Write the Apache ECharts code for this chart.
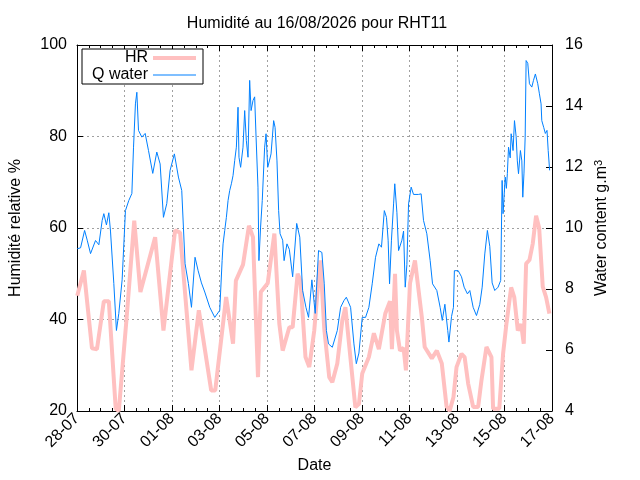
<!DOCTYPE html>
<html>
<head>
<meta charset="utf-8">
<script src="https://cdn.jsdelivr.net/npm/echarts@6/dist/echarts.min.js"></script>
<style>
  html, body { margin: 0; padding: 0; background: #fff; }
  #chart { width: 640px; height: 480px; }
</style>
</head>
<body>
<div id="chart"></div>
<script>
// time in days since 28-07 00:00
const dateLabels = ['28-07', '30-07', '01-08', '03-08', '05-08', '07-08', '09-08', '11-08', '13-08', '15-08', '17-08'];

const hrTime = [0.01, 0.29, 0.63, 0.84, 1.13, 1.34, 1.63, 1.76, 2.09, 2.41, 2.67, 3.29, 3.64, 4.13, 4.34,
  4.82, 5.13, 5.65, 5.82, 6.28, 6.57, 6.69, 6.99, 7.24, 7.41, 7.62, 7.74, 8.03, 8.31, 8.52, 8.66, 8.94,
  9.08, 9.29, 9.41, 9.62, 9.78, 9.99, 10.2, 10.25, 10.41, 10.62, 10.75, 10.96, 11.17, 11.3, 11.51, 11.72,
  11.87, 12.01, 12.29, 12.5, 12.71, 12.98, 13.18, 13.26, 13.39, 13.47, 13.6, 13.75, 13.85, 14.02, 14.23,
  14.31, 14.52, 14.64, 14.94, 15.15, 15.36, 15.56, 15.69, 15.85, 15.98, 16.19, 16.32, 16.47, 16.68, 16.89,
  17.03, 17.24, 17.31, 17.45, 17.52, 17.78, 17.94, 18.08, 18.28, 18.41, 18.56, 18.7, 18.81, 18.91, 19.05,
  19.19, 19.33, 19.46, 19.61, 19.75, 19.89];
const hrValue = [45.2, 50.7, 33.7, 33.5, 44, 44, 20.5, 20, 40.4, 61.6, 46, 58, 37.6, 59.5, 59,
  28.9, 42, 24.5, 24.5, 44.9, 34.7, 48.5, 52, 60.5, 58, 27.4, 46, 47.9, 58.8, 39, 33.2, 38.3,
  38.3, 50, 48.5, 31.8, 29.6, 37.6, 50.7, 52.9, 38, 27.4, 26.3, 30.4, 39.8, 42.7, 31.8, 20.8,
  21.5, 28.2, 31.8, 37, 33.5, 41.3, 44, 33.5, 50, 37.6, 33.2, 33.8, 28.9, 47.9, 52.9,
  53, 40.5, 34, 31.5, 33.2, 30.4, 21, 20, 23, 29.6, 32.5, 31.8, 26, 20.9, 20.9,
  26.7, 34, 34, 31.8, 20.5, 20.5, 32.5, 39, 47, 44.9, 37.6, 39, 34.7, 52.2, 53,
  56.6, 62.7, 60, 47.2, 44.9, 41.3];

const qTime = [0.01, 0.15, 0.32, 0.43, 0.57, 0.78, 0.92, 1.06, 1.13, 1.24, 1.34, 1.41, 1.55, 1.66, 1.76,
  1.9, 2.04, 2.18, 2.31, 2.38, 2.46, 2.52, 2.59, 2.73, 2.87, 3.01, 3.19, 3.36, 3.5, 3.64, 3.78, 3.92,
  4.1, 4.27, 4.41, 4.55, 4.69, 4.82, 4.97, 5.1, 5.24, 5.38, 5.59, 5.8, 6.01,
  6.11, 6.15, 6.22, 6.29, 6.36, 6.43, 6.5, 6.57, 6.64, 6.71, 6.78, 6.82, 6.89, 6.99, 7.06, 7.13, 7.2,
  7.27, 7.33, 7.41, 7.48, 7.54, 7.62, 7.66, 7.73, 7.8, 7.9, 7.96, 8.03, 8.1, 8.17, 8.28, 8.34, 8.42,
  8.49, 8.55, 8.66, 8.72, 8.84,
  8.94, 9.08, 9.25, 9.38, 9.5, 9.64, 9.75, 9.89, 10.03, 10.17, 10.31,
  10.41, 10.5, 10.59, 10.75, 10.96, 11.1, 11.24, 11.34, 11.52, 11.66, 11.76, 11.87, 12.01, 12.15,
  12.29, 12.43, 12.57, 12.71, 12.82, 12.94, 13.03, 13.1, 13.16, 13.24, 13.33, 13.38, 13.47, 13.54,
  13.68, 13.75, 13.82, 13.89, 13.96, 14.07, 14.17, 14.38, 14.49, 14.59, 14.73, 14.87, 14.97, 15.15,
  15.29, 15.38, 15.49, 15.61, 15.66, 15.77, 15.85, 15.89, 16.05, 16.19, 16.3, 16.44, 16.54, 16.68,
  16.82, 16.96, 17.06, 17.17, 17.28, 17.38, 17.48, 17.59, 17.73, 17.84,
  17.9, 17.94, 17.98, 18.03, 18.08, 18.12, 18.17, 18.24, 18.28, 18.36, 18.42, 18.49, 18.54, 18.59,
  18.67, 18.73, 18.77, 18.82, 18.87, 18.91, 18.98, 19.05, 19.15, 19.22, 19.3, 19.4, 19.47, 19.54,
  19.57, 19.65, 19.72, 19.79, 19.84, 19.9];
const qValue = [9.32, 9.35, 9.92, 9.6, 9.16, 9.59, 9.45, 10.25, 10.47, 10.1, 10.5, 9.9, 8.18, 6.64, 7.2,
  8.3, 10.57, 10.9, 11.13, 12.65, 14.07, 14.45, 13.2, 12.98, 13.1, 12.54, 11.79, 12.49, 12.1, 10.35, 10.8, 11.89,
  12.43, 11.67, 11.23, 8.83, 8.18, 7.4, 9.04, 8.6, 8.2, 7.9, 7.4, 7.07, 7.3,
  8.93, 9.48, 9.92, 10.35, 10.9, 11.23, 11.45, 11.72, 12.21, 12.65, 13.96, 12.32, 11.99, 12.65, 13.85, 12.87, 12.32,
  14.84, 13.85, 14.18, 14.3, 12.98, 11.34, 8.93, 10.03, 10.9, 12.65, 13.09, 11.99, 12.2, 12.43, 13.52, 13.3, 12.2,
  10.57, 9.81, 9.6, 8.93, 9.48,
  9.3, 8.4, 10.15, 9.7, 7.95, 7.4, 7.07, 8.3, 7.2, 9.26, 9.2,
  8.17, 6.64, 6.2, 6.09, 6.64, 7.4, 7.62, 7.73, 7.4, 6.2, 5.55, 5.9, 7.07, 7.07,
  7.4, 8.17, 9.04, 9.48, 9.37, 10.57, 10.35, 9.6, 8.17, 9.6, 10.79, 11.45, 10.5, 9.26,
  9.6, 9.9, 8.06, 8.8, 10.79, 11.34, 11.1, 11.1, 11.12, 10.25, 9.81, 8.93, 8.17, 7.95,
  7.4, 6.97, 7.5, 6.64, 6.26, 7.1, 7.4, 8.6, 8.6, 8.4, 8.06, 7.84, 7.95, 7.4,
  7.13, 7.5, 8.06, 9.15, 9.92, 9.4, 8.2, 7.95, 8.06, 8.28,
  11.56, 10.47, 11.01, 11.67, 11.3, 11.78, 12.65, 12.3, 13.09, 12.54, 13.52, 13.0, 12.2, 11.78,
  12.54, 12.2, 11.01, 11.8, 12.98, 15.49, 15.4, 14.73, 14.62, 14.84, 15.05, 14.73, 14.4, 14.07,
  13.52, 13.3, 13.1, 13.2, 12.54, 11.89];

const zip = (ts, vs) => ts.map((t, i) => [t, vs[i]]);

const font = 'Liberation Sans, Arial, sans-serif';
const gridLine = { show: true, lineStyle: { color: '#a0a0a0', type: [2, 3], width: 1 }, showMinLine: false, showMaxLine: false };
const tick = { show: true, inside: true, length: 6, lineStyle: { color: '#000' } };
const minor = { show: true, splitNumber: 4, length: 3, lineStyle: { color: '#000' } };
const border = { show: true, onZero: false, lineStyle: { color: '#000', width: 1 } };

const chart = echarts.init(document.getElementById('chart'), null, { renderer: 'canvas' });

const option = {
  backgroundColor: '#fff',
  animation: false,
  title: {
    text: 'Humidité au 16/08/2026 pour RHT11',
    left: 312,
    top: 11,
    textAlign: 'center',
    textStyle: { fontFamily: font, fontSize: 16, fontWeight: 'normal', color: '#000' }
  },
  legend: {
    left: 82,
    top: 49,
    orient: 'vertical',
    align: 'right',
    backgroundColor: '#fff',
    borderColor: '#000',
    borderWidth: 1,
    borderRadius: 0,
    padding: [1, 7, 1, 8],
    itemGap: 1,
    itemWidth: 43,
    itemHeight: 13,
    textStyle: { fontFamily: font, fontSize: 16, lineHeight: 14, color: '#000', width: 58, align: 'right' },
    data: [
      { name: 'HR', icon: 'path://M0,0H43V4H0Z' },
      { name: 'Q water', icon: 'path://M0,0H43V1H0Z' }
    ]
  },
  grid: { left: 73, right: 88, top: 45, bottom: 69, containLabel: false },
  xAxis: [
    {
      type: 'value',
      position: 'bottom',
      min: 0,
      max: 20,
      interval: 2,
      name: 'Date',
      nameLocation: 'middle',
      nameGap: 47,
      nameTextStyle: { fontFamily: font, fontSize: 16, color: '#000' },
      axisLine: border,
      axisTick: tick,
      minorTick: minor,
      axisLabel: {
        rotate: 45,
        margin: 5,
        fontFamily: font,
        fontSize: 16,
        color: '#000',
        formatter: v => dateLabels[Math.round(v / 2)]
      },
      splitLine: gridLine
    },
    {
      type: 'value',
      position: 'top',
      min: 0,
      max: 20,
      interval: 2,
      axisLine: border,
      axisTick: tick,
      minorTick: minor,
      axisLabel: { show: false },
      splitLine: { show: false }
    }
  ],
  yAxis: [
    {
      type: 'value',
      position: 'left',
      min: 20,
      max: 100,
      interval: 20,
      name: 'Humidité relative %',
      nameLocation: 'middle',
      nameGap: 53,
      nameTextStyle: { fontFamily: font, fontSize: 16, color: '#000' },
      axisLine: border,
      axisTick: tick,
      axisLabel: { margin: 10, fontFamily: font, fontSize: 16, color: '#000' },
      splitLine: gridLine
    },
    {
      type: 'value',
      position: 'right',
      min: 4,
      max: 16,
      interval: 2,
      name: 'Water content g.m{sup|3}',
      nameLocation: 'middle',
      nameGap: 39,
      nameRotate: 90,
      nameTextStyle: {
        fontFamily: font, fontSize: 16, color: '#000',
        rich: { sup: { fontFamily: font, fontSize: 11, color: '#000', verticalAlign: 'top', lineHeight: 11, padding: [0, 0, 9, 0] } }
      },
      axisLine: border,
      axisTick: tick,
      axisLabel: { margin: 13, fontFamily: font, fontSize: 16, color: '#000' },
      splitLine: { show: false }
    }
  ],
  series: [
    {
      name: 'HR',
      type: 'line',
      xAxisIndex: 0,
      yAxisIndex: 0,
      symbol: 'none',
      data: zip(hrTime, hrValue),
      lineStyle: { color: '#ffc0c0', width: 4 },
      itemStyle: { color: '#ffc0c0' }
    },
    {
      name: 'Q water',
      type: 'line',
      xAxisIndex: 0,
      yAxisIndex: 1,
      symbol: 'none',
      data: zip(qTime, qValue),
      lineStyle: { color: '#0080ff', width: 1 },
      itemStyle: { color: '#0080ff' }
    }
  ]
};

chart.setOption(option);
</script>
</body>
</html>
